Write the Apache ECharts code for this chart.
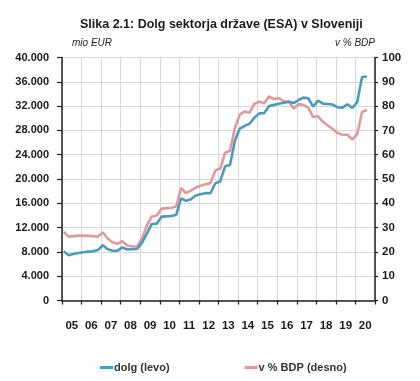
<!DOCTYPE html>
<html>
<head>
<meta charset="utf-8">
<script src="https://cdn.jsdelivr.net/npm/echarts@6/dist/echarts.min.js"></script>
<style>
html,body{margin:0;padding:0;background:#fff;}
#chart{width:420px;height:381px;}
</style>
</head>
<body>
<div id="chart"></div>
<script>
// Year tick labels (x axis)
const yearLabels = ['05','06','07','08','09','10','11','12','13','14','15','16','17','18','19','20'];
// Quarterly general government debt, mio EUR (left axis), 2005 Q1 onwards
const debtMioEur = [8100,7450,7650,7820,7950,8040,8100,8300,9100,8450,8200,8200,8750,8400,8450,8500,
  9500,11000,12600,12650,13800,13850,13900,14100,
  16800,16400,16650,17300,17500,17680,17650,19300,19600,22100,22300,26300,
  28300,28750,29100,30100,30800,30850,32000,32200,32400,32550,32700,32500,
  33000,33400,33300,31900,32900,32400,32350,32250,31800,31750,32300,31700,32600,36800,36880];
// Debt as % of GDP (right axis)
const debtPctGdp = [28.2,26.3,26.5,26.7,26.7,26.6,26.5,26.3,28.0,25.5,24.0,23.3,24.4,22.6,22.3,22.2,
  25.5,30.8,34.6,34.9,37.8,38.0,38.2,38.7,
  46.3,44.2,45.2,46.5,47.2,47.9,48.3,53.5,54.3,60.8,61.6,71.0,
  76.5,77.8,77.3,81.0,81.8,81.2,84.0,82.9,83.3,82.0,81.9,79.0,
  80.8,80.5,79.4,75.5,75.8,73.5,72.0,70.6,68.9,68.2,68.2,66.2,68.5,77.5,78.5];
const seriesNames = ['dolg (levo)', 'v % BDP (desno)'];
const titleText = 'Slika 2.1: Dolg sektorja države (ESA) v Sloveniji';

const FONT = "'Liberation Sans',Arial,sans-serif";
const quarterOffset = 0.35;
const toPoints = arr => arr.map((v, i) => [i + quarterOffset, v]);
const fmtThousands = v => String(v).replace(/\B(?=(\d{3})+(?!\d))/g, '.');

const chart = echarts.init(document.getElementById('chart'), null, {renderer: 'canvas'});
chart.setOption({
  animation: false,
  backgroundColor: '#fff',
  title: {
    text: titleText,
    left: 75,
    top: 13,
    textStyle: {fontFamily: FONT, fontWeight: 'bold', fontSize: 12.5, color: '#1a1a1a'}
  },
  legend: {
    left: 100,
    top: 362,
    padding: 0,
    itemGap: 75,
    itemWidth: 13,
    itemHeight: 3,
    icon: 'rect',
    textStyle: {fontFamily: FONT, fontWeight: 'bold', fontSize: 11, color: '#333', padding: [0,0,0,-4]},
    data: seriesNames
  },
  grid: {left: 62, right: 45, top: 57.5, bottom: 80.5, containLabel: false},
  xAxis: [{
    type: 'value', min: 0, max: yearLabels.length * 4, interval: 4,
    axisLine: {show: true, onZero: false, lineStyle: {color: '#222', width: 1.5}},
    axisTick: {show: true, length: 4, lineStyle: {color: '#222', width: 1.2}},
    axisLabel: {show: false},
    splitLine: {show: true, lineStyle: {color: '#d8d8d8', width: 1}}
  }, {
    type: 'category', data: yearLabels, boundaryGap: true, position: 'bottom',
    axisLine: {show: false}, axisTick: {show: false}, splitLine: {show: false},
    axisLabel: {margin: 19, fontFamily: FONT, fontWeight: 'bold', fontSize: 11.5, color: '#1a1a1a'}
  }],
  yAxis: [{
    type: 'value', min: 0, max: 40000, interval: 4000, position: 'left',
    name: 'mio EUR', nameLocation: 'end', nameGap: 9,
    nameTextStyle: {fontFamily: FONT, fontStyle: 'italic', fontSize: 10, color: '#222', align: 'left', padding: [0,0,0,10]},
    axisLine: {show: true, lineStyle: {color: '#222', width: 1.5}},
    axisTick: {show: true, length: 5, lineStyle: {color: '#222', width: 1.2}},
    axisLabel: {margin: 13, formatter: fmtThousands, fontFamily: FONT, fontWeight: 'bold', fontSize: 11, color: '#1a1a1a'},
    splitLine: {show: true, lineStyle: {color: '#d8d8d8', width: 1}}
  }, {
    type: 'value', min: 0, max: 100, interval: 10, position: 'right',
    name: 'v % BDP', nameLocation: 'end', nameGap: 9,
    nameTextStyle: {fontFamily: FONT, fontStyle: 'italic', fontSize: 10, color: '#222', align: 'right', padding: [0,0,0,0]},
    axisLine: {show: true, lineStyle: {color: '#222', width: 1.5}},
    axisTick: {show: true, length: 3, lineStyle: {color: '#222', width: 1.2}},
    axisLabel: {margin: 7, fontFamily: FONT, fontWeight: 'bold', fontSize: 11.5, color: '#1a1a1a'},
    splitLine: {show: false}
  }],
  series: [{
    name: seriesNames[0], type: 'line', xAxisIndex: 0, yAxisIndex: 0,
    data: toPoints(debtMioEur), showSymbol: false, z: 4,
    itemStyle: {color: '#4b9bbf'},
    lineStyle: {color: '#4b9bbf', width: 2.6}
  }, {
    name: seriesNames[1], type: 'line', xAxisIndex: 0, yAxisIndex: 1,
    data: toPoints(debtPctGdp), showSymbol: false, z: 3,
    itemStyle: {color: '#e09a9b'},
    lineStyle: {color: '#e09a9b', width: 2.6}
  }]
});
</script>
</body>
</html>
